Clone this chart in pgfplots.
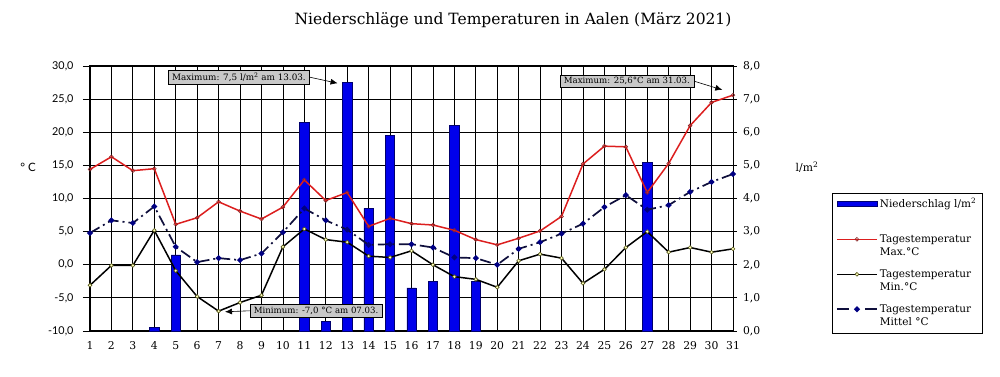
\documentclass[border=0pt]{standalone}
\usepackage{pgfplots}
\pgfplotsset{compat=1.18}
\usepackage{fontspec}
\setmainfont{DejaVu Serif}
\newfontfamily\lato{Lato}
\usetikzlibrary{arrows.meta}
\definecolor{barblue}{RGB}{0,0,235}
\definecolor{barnavy}{RGB}{0,0,110}
\definecolor{maxred}{RGB}{220,30,30}
\definecolor{maxedge}{RGB}{140,40,40}
\definecolor{minfill}{RGB}{255,255,190}
\definecolor{minedge}{RGB}{80,80,20}
\definecolor{meanline}{RGB}{15,15,60}
\definecolor{meanmark}{RGB}{0,0,130}
\definecolor{boxgray}{RGB}{200,200,200}

\pgfplotsset{
  mylineleg/.style={legend image code/.code={\draw[mark repeat=2,mark phase=2,##1] plot coordinates {(0pt,3.5pt) (20pt,3.5pt) (40pt,3.5pt)};}},
  mymeanleg/.style={legend image code/.code={\draw[mark repeat=2,mark phase=2,##1,dash pattern=on 12pt off 16pt on 12pt] plot coordinates {(0pt,3.5pt) (20pt,3.5pt) (40pt,3.5pt)};}},
  mybarleg/.style={legend image code/.code={\draw[fill=barblue,draw=barnavy,line width=0.6pt] (0pt,1pt) rectangle (40pt,6pt);}},
}

\pgfplotstableread{
day max min mean
1 14.4 -3.1 4.8
2 16.3 -0.1 6.7
3 14.2 -0.1 6.3
4 14.5 5.2 8.8
5 6.1 -0.9 2.7
6 7.1 -4.8 0.4
7 9.5 -7.0 1.0
8 8.1 -5.7 0.7
9 6.9 -4.6 1.7
10 8.7 2.7 4.9
11 12.8 5.4 8.5
12 9.7 3.8 6.7
13 10.9 3.4 5.3
14 5.8 1.3 3.0
15 7.0 1.1 3.1
16 6.2 2.1 3.1
17 6.0 0.0 2.6
18 5.2 -1.8 1.1
19 3.8 -2.2 1.0
20 3.0 -3.4 0.0
21 4.0 0.6 2.4
22 5.1 1.6 3.4
23 7.3 1.0 4.7
24 15.2 -2.8 6.2
25 17.9 -0.7 8.7
26 17.8 2.6 10.5
27 10.9 5.0 8.3
28 15.3 1.9 9.0
29 21.0 2.6 11.0
30 24.5 1.9 12.5
31 25.6 2.4 13.7
}\temps

\pgfplotstableread{
day rain
4 0.1
5 2.3
11 6.3
12 0.3
13 7.5
14 3.7
15 5.9
16 1.3
17 1.5
18 6.2
19 1.5
27 5.1
}\rain

\begin{document}
\begin{tikzpicture}
\pgfplotsset{every axis/.append style={width=643pt,height=265pt,scale only axis,xmin=1,xmax=31,clip=false}}
% frame + grid + temperature axis
\begin{axis}[
  ymin=-10,ymax=30,
  ytick={-10,-5,...,30},
  xtick={1,...,31},
  grid=major,
  major grid style={black,line width=0.8pt},
  axis line style={black,line width=1pt},
  ytick pos=left, xtick pos=bottom,
  tick align=outside, major tick length=7pt,
  xtick style={draw=none},
  ytick style={black,line width=0.8pt},
  /pgf/number format/assume math mode=true,
  yticklabel style={font=\lato\fontsize{10.8}{12}\selectfont,xshift=-6pt,
    /pgf/number format/fixed,/pgf/number format/fixed zerofill,
    /pgf/number format/precision=1,/pgf/number format/use comma},
  xticklabel style={font=\fontsize{10.8}{12}\selectfont},
]
\end{axis}
% precipitation axis
\begin{axis}[
  ymin=0,ymax=8,
  axis y line*=right, axis x line=none,
  ytick={0,...,8},
  tick align=center, major tick length=7pt,
  ytick style={black,line width=0.8pt},
  axis line style={black,line width=1pt},
  /pgf/number format/assume math mode=true,
  yticklabel style={font=\fontsize{10.8}{12}\selectfont,xshift=3pt,
    /pgf/number format/fixed,/pgf/number format/fixed zerofill,
    /pgf/number format/precision=1,/pgf/number format/use comma},
]
\addplot[ybar,bar width=9.3pt,fill=barblue,draw=barnavy,line width=0.6pt] table[x=day,y=rain]{\rain};
\end{axis}
% temperature lines
\begin{axis}[
  ymin=-10,ymax=30, hide axis,
  legend cell align=left,
  legend style={at={(rel axis cs:1.1535,0.519)},anchor=north west,
    draw=black,line width=0.8pt,fill=white,
    font=\fontsize{10.5}{12.5}\selectfont,
    row sep=6pt, inner xsep=4pt, inner ysep=2.5pt,
    nodes={text depth=,inner sep=2pt},
    cells={anchor=base west}},
]
\addlegendimage{mybarleg}
\addlegendentry{\begin{tabular}[t]{@{}l@{}}Niederschlag l/m\textsuperscript{2}\\ \mbox{}\end{tabular}}
\addplot[maxred,line width=1.5pt,mark=o,mark size=1.9pt,
  mark options={draw=maxedge,fill=white,line width=0.6pt,solid},
  mylineleg]
  table[x=day,y=max]{\temps};
\addlegendentry{\begin{tabular}[t]{@{}l@{}}Tagestemperatur\\Max.°C\end{tabular}}
\addplot[black,line width=1.5pt,mark=*,mark size=1.9pt,
  mark options={draw=minedge,fill=minfill,line width=0.6pt,solid},
  mylineleg]
  table[x=day,y=min]{\temps};
\addlegendentry{\begin{tabular}[t]{@{}l@{}}Tagestemperatur\\Min.°C\end{tabular}}
\addplot[meanline,line width=1.7pt,dash pattern=on 11pt off 4pt on 2pt off 4pt,
  mark=*,mark size=1.9pt,
  mark options={draw=meanmark,fill=meanmark,solid},
  mymeanleg]
  table[x=day,y=mean]{\temps};
\addlegendentry{\begin{tabular}[t]{@{}l@{}}Tagestemperatur\\Mittel °C\end{tabular}}

\node[fill=boxgray,draw=black,line width=0.6pt,font=\fontsize{8.8}{10}\selectfont,inner xsep=4pt,inner ysep=2.5pt] (b1) at (axis cs:7.95,28.3) {Maximum: 7,5 l/m\textsuperscript{2} am 13.03.};
\draw[-{Latex[length=7pt,width=6pt]},line width=0.6pt] (b1.east) -- (axis cs:12.55,27.4);
\node[fill=boxgray,draw=black,line width=0.6pt,font=\fontsize{8.6}{10}\selectfont,inner xsep=4pt,inner ysep=2.5pt] (b2) at (axis cs:26.05,27.7) {Maximum: 25,6°C am 31.03.};
\draw[-{Latex[length=7pt,width=6pt]},line width=0.6pt] (b2.east) -- (axis cs:30.5,26.4);
\node[fill=boxgray,draw=black,line width=0.6pt,font=\fontsize{8.6}{10}\selectfont,inner xsep=4pt,inner ysep=2.5pt] (b3) at (axis cs:11.55,-6.95) {Minimum: -7,0 °C am 07.03.};
\draw[-{Latex[length=7pt,width=6pt]},line width=0.6pt] (b3.west) -- (axis cs:7.3,-7.1);
\end{axis}
\node[font=\fontsize{15.5}{17}\selectfont,anchor=base] at (423pt,306pt) {Niederschläge und Temperaturen in Aalen (März 2021)};
\node[font=\lato\fontsize{11.5}{13}\selectfont] at (-62pt,164pt) {° C};
\node[font=\fontsize{10.8}{12}\selectfont] at (717pt,164pt) {l/m\textsuperscript{2}};
\pgfresetboundingbox
\useasboundingbox (-90pt,-46pt) rectangle (910pt,331pt);
\end{tikzpicture}
\end{document}
